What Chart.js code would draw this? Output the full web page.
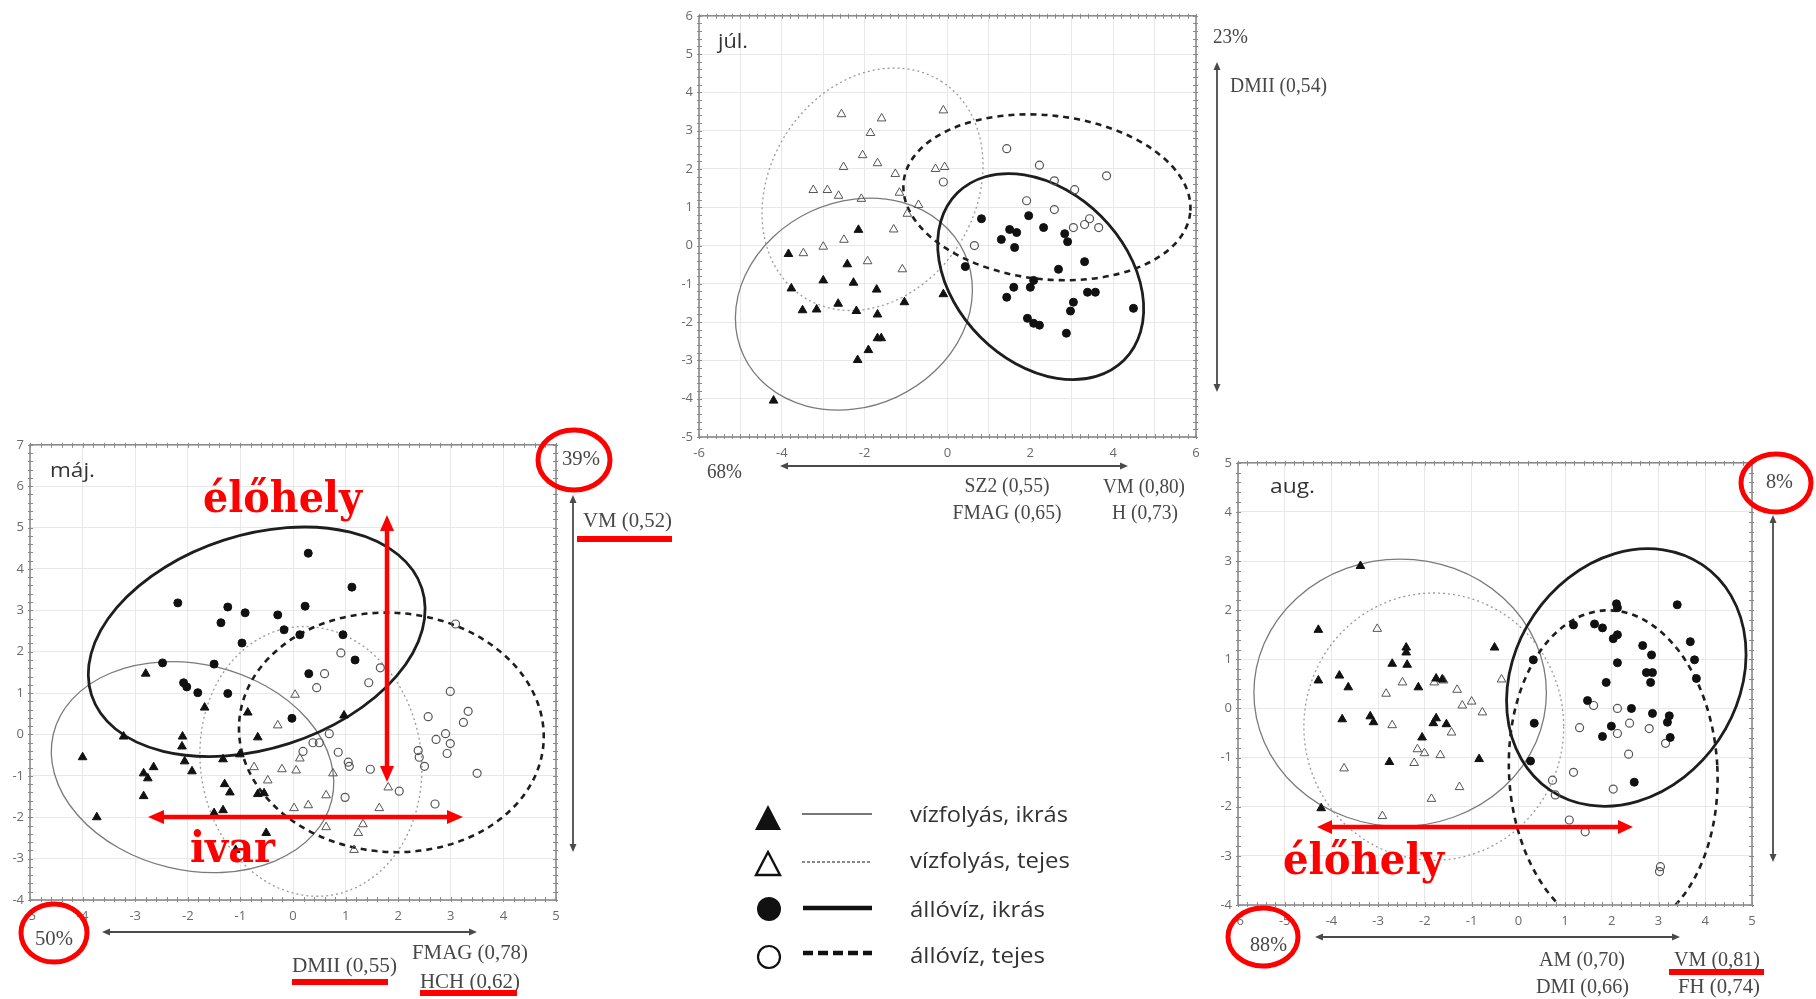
<!DOCTYPE html>
<html><head><meta charset="utf-8">
<script src="https://cdn.jsdelivr.net/npm/chart.js@4.4.1/dist/chart.umd.min.js"></script>
<style>
html,body{margin:0;padding:0;background:#fff;}
#page{position:relative;width:1816px;height:999px;overflow:hidden;background:#fff;}
canvas{position:absolute;}
#ov{position:absolute;left:0;top:0;}
.g{font-family:"Liberation Serif",serif;font-size:20px;fill:#474747;}
.t{font-family:"Open Sans",sans-serif;font-size:20px;fill:#333;}
.lg{font-family:"Open Sans",sans-serif;font-size:21px;fill:#333;}
.r{font-family:"DejaVu Serif",serif;font-weight:bold;font-size:42px;fill:#ff0000;}
</style></head><body>
<div id="page">
<canvas id="jul"></canvas>
<canvas id="maj"></canvas>
<canvas id="aug"></canvas>
<svg id="ov" width="1816" height="999" xmlns="http://www.w3.org/2000/svg"></svg>
</div>
<script>
// ---------------- DATA ----------------
const groupNames = ['vízfolyás, ikrás', 'vízfolyás, tejes', 'állóvíz, ikrás', 'állóvíz, tejes'];

// júl.
const julVizfolyasIkras = [[-2.15,0.41],[-3.84,-0.22],[-2.42,-0.49],[-3.0,-0.91],[-2.27,-0.97],[-1.71,-1.15],[-3.77,-1.12],[-3.5,-1.69],[-3.16,-1.67],[-2.64,-1.52],[-2.2,-1.71],[-1.69,-1.8],[-1.04,-1.48],[-1.69,-2.42],[-1.6,-2.42],[-1.91,-2.73],[-2.17,-2.99],[-4.2,-4.05],[-0.1,-1.27]];
const julVizfolyasTejes = [[-2.56,3.43],[-1.59,3.32],[-1.86,2.94],[-2.05,2.36],[-1.69,2.15],[-2.51,2.05],[-1.26,1.87],[-3.24,1.45],[-2.9,1.45],[-2.63,1.3],[-2.08,1.22],[-1.16,1.38],[-0.7,1.06],[-0.97,0.83],[-0.1,3.53],[-0.29,2.0],[-0.07,2.05],[-1.3,0.42],[-2.5,0.15],[-3.0,-0.03],[-3.48,-0.2],[-1.93,-0.41],[-1.09,-0.62]];
const julAlloIkras = [[0.43,-0.55],[0.82,0.7],[1.96,0.78],[2.32,0.47],[1.5,0.42],[1.67,0.34],[2.83,0.31],[1.3,0.16],[1.62,-0.05],[2.9,0.1],[3.31,-0.42],[2.68,-0.62],[2.08,-0.91],[2.0,-1.09],[1.6,-1.09],[1.43,-1.35],[3.38,-1.22],[3.57,-1.22],[3.04,-1.48],[2.97,-1.71],[4.49,-1.64],[1.93,-1.9],[2.08,-2.03],[2.22,-2.08],[2.87,-2.29]];
const julAlloTejes = [[1.43,2.53],[2.22,2.1],[3.84,1.82],[2.58,1.69],[3.07,1.46],[1.91,1.17],[2.58,0.94],[3.43,0.7],[3.31,0.55],[3.04,0.47],[3.65,0.47],[0.65,0.0],[-0.1,1.66]];
// ellipses: [centerX, centerY, radiusX (x units), radiusY (y units), rotation deg]
const julEllipses = [[-2.26,-1.53,2.94,2.67,-25],[-1.81,1.47,3.09,2.68,-57.6],[2.25,-0.81,2.85,2.23,45],[2.4,1.26,3.48,2.14,6.2]];
const julXLabels = [-6,-4,-2,0,2,4,6];
const julYLabels = [-5,-4,-3,-2,-1,0,1,2,3,4,5,6];

// máj.
const majVizfolyasIkras = [[-2.8,1.47],[-1.68,0.65],[-0.86,0.53],[-2.1,-0.05],[-2.11,-0.29],[-0.67,-0.07],[-3.22,-0.05],[-4.0,-0.55],[-2.06,-0.65],[-1.33,-0.6],[-1.01,-0.48],[-1.92,-0.89],[-2.65,-0.79],[-2.84,-0.94],[-2.76,-1.06],[-1.3,-1.2],[-1.2,-1.4],[-2.84,-1.49],[-0.67,-1.44],[-0.55,-1.42],[-3.73,-2.0],[-1.5,-1.9],[-1.33,-1.83],[-0.51,-2.38],[-1.09,-2.79],[0.97,0.46]];
const majVizfolyasTejes = [[0.04,0.96],[-0.29,0.22],[-0.74,-0.79],[-0.21,-0.84],[0.06,-0.87],[-0.48,-1.11],[0.13,-0.58],[0.02,-1.78],[0.29,-1.71],[1.81,-1.28],[0.63,-1.47],[1.64,-1.78],[0.63,-2.24],[1.33,-2.17],[1.24,-2.38],[1.16,-2.79],[0.76,-0.94]];
const majAlloIkras = [[0.29,4.38],[-2.19,3.18],[-1.24,3.08],[-0.91,2.94],[0.23,3.1],[-0.29,2.89],[-1.37,2.7],[-0.17,2.53],[0.13,2.41],[-0.97,2.21],[-2.48,1.73],[-1.5,1.7],[0.3,1.47],[1.12,3.56],[0.95,2.41],[1.18,1.8],[-0.02,0.39],[-1.24,0.99],[-1.81,1.01],[-2.08,1.25],[-2.02,1.15]];
const majAlloTejes = [[3.09,2.67],[0.91,1.97],[1.66,1.61],[0.6,1.47],[1.44,1.25],[0.45,1.13],[2.99,1.04],[3.33,0.56],[2.57,0.43],[3.24,0.29],[0.69,0.02],[2.9,0.02],[2.72,-0.12],[2.99,-0.22],[0.38,-0.2],[0.5,-0.2],[2.93,-0.46],[2.38,-0.39],[2.4,-0.55],[2.5,-0.77],[0.19,-0.41],[0.86,-0.43],[1.05,-0.67],[1.07,-0.77],[1.47,-0.84],[3.5,-0.94],[2.02,-1.37],[0.99,-1.52],[2.7,-1.68]];
const majEllipses = [[-1.91,-0.79,2.72,2.49,13.3],[0.34,-0.65,2.1,3.27,-8],[-0.69,2.24,3.3,2.58,-17.9],[1.87,0.05,2.9,2.89,4]];
const majXLabels = [-5,-4,-3,-2,-1,0,1,2,3,4,5];
const majYLabels = [-4,-3,-2,-1,0,1,2,3,4,5,6,7];

// aug.
const augVizfolyasIkras = [[-3.38,2.9],[-4.28,1.6],[-4.28,0.57],[-3.83,0.67],[-3.64,0.43],[-2.4,1.24],[-2.4,1.14],[-2.7,0.91],[-2.38,0.89],[-2.14,0.43],[-1.76,0.61],[-1.63,0.59],[-0.51,1.24],[-3.77,-0.22],[-3.17,-0.16],[-3.1,-0.28],[-1.76,-0.2],[-1.82,-0.3],[-1.54,-0.32],[-2.06,-0.59],[-2.76,-1.09],[-0.84,-1.03],[-4.22,-2.03]];
const augVizfolyasTejes = [[-3.02,1.62],[-2.48,0.53],[-2.83,0.3],[-1.8,0.53],[-1.6,0.57],[-1.31,0.38],[-1.2,0.06],[-1.0,0.14],[-0.77,-0.08],[-0.36,0.59],[-2.7,-0.34],[-1.43,-0.49],[-2.16,-0.83],[-2.01,-0.91],[-1.67,-0.95],[-3.73,-1.22],[-2.23,-1.11],[-1.26,-1.6],[-1.86,-1.84],[-2.91,-2.19]];
const augAlloIkras = [[2.1,2.13],[2.12,2.05],[3.4,2.11],[1.18,1.7],[1.63,1.72],[1.8,1.64],[2.12,1.5],[2.03,1.42],[3.68,1.36],[2.66,1.28],[2.85,1.09],[3.77,0.99],[2.12,0.93],[2.74,0.73],[2.87,0.73],[3.81,0.61],[2.83,0.53],[1.88,0.53],[0.32,0.99],[1.48,0.16],[2.42,0.0],[2.87,-0.1],[3.23,-0.15],[0.34,-0.3],[0.26,-1.07],[1.99,-0.36],[1.8,-0.57],[3.19,-0.28],[3.25,-0.59],[2.48,-1.5]];
const augAlloTejes = [[1.31,-0.39],[2.12,-0.51],[2.38,-0.3],[2.8,-0.41],[3.15,-0.71],[2.36,-0.93],[1.18,-1.3],[2.03,-1.64],[1.09,-2.27],[1.43,-2.51],[3.04,-3.22],[3.02,-3.32],[1.61,0.06],[2.12,0.0],[0.73,-1.46],[0.79,-1.76]];
const augEllipses = [[-2.53,0.32,3.13,2.72,0],[-1.81,-0.37,2.78,2.72,0],[2.31,0.63,2.91,2.27,-55.9],[2.03,-1.28,2.23,3.28,-3]];
const augXLabels = [-6,-5,-4,-3,-2,-1,0,1,2,3,4,5];
const augYLabels = [-4,-3,-2,-1,0,1,2,3,4,5];

// ---------------- STYLES ----------------
const pointStyles = [
  {pointStyle:'triangle', pointRadius:5, backgroundColor:'#111', borderColor:'#111', borderWidth:1},
  {pointStyle:'triangle', pointRadius:5, backgroundColor:'rgba(255,255,255,0)', borderColor:'#555', borderWidth:1},
  {pointStyle:'circle', pointRadius:4, backgroundColor:'#111', borderColor:'#111', borderWidth:1},
  {pointStyle:'circle', pointRadius:4, backgroundColor:'rgba(255,255,255,0)', borderColor:'#555', borderWidth:1.2}
];
const ellipseStyles = [
  {c:'#7a7a7a', w:1.3, d:[]},
  {c:'#9a9a9a', w:1.3, d:[2,3]},
  {c:'#1e1e1e', w:2.8, d:[]},
  {c:'#1e1e1e', w:2.6, d:[6,5]}
];

function ellipsePlugin(list){
  return {id:'ellipses', beforeDatasetsDraw(chart){
    const ctx = chart.ctx, a = chart.chartArea, xs = chart.scales.x, ys = chart.scales.y;
    const sx = Math.abs(xs.getPixelForValue(1) - xs.getPixelForValue(0));
    const sy = Math.abs(ys.getPixelForValue(1) - ys.getPixelForValue(0));
    ctx.save();
    ctx.beginPath(); ctx.rect(a.left, a.top, a.right - a.left, a.bottom - a.top); ctx.clip();
    list.forEach((e, i) => {
      const st = ellipseStyles[i];
      ctx.beginPath();
      ctx.ellipse(xs.getPixelForValue(e[0]), ys.getPixelForValue(e[1]), e[2]*sx, e[3]*sy, e[4]*Math.PI/180, 0, Math.PI*2);
      ctx.setLineDash(st.d); ctx.lineWidth = st.w; ctx.strokeStyle = st.c; ctx.stroke();
    });
    ctx.restore();
  }};
}
const framePlugin = {id:'frame', afterDatasetsDraw(chart){
  const ctx = chart.ctx, a = chart.chartArea, xs = chart.scales.x, ys = chart.scales.y;
  ctx.save();
  ctx.strokeStyle = '#8c8c8c'; ctx.lineWidth = 1;
  ctx.beginPath();
  for (let v = xs.min; v <= xs.max + 1e-9; v += 0.2) {
    const p = Math.round(xs.getPixelForValue(v)) + 0.5;
    ctx.moveTo(p, a.top - 2); ctx.lineTo(p, a.top + 3);
    ctx.moveTo(p, a.bottom - 3); ctx.lineTo(p, a.bottom + 2);
  }
  for (let v = ys.min; v <= ys.max + 1e-9; v += 0.2) {
    const p = Math.round(ys.getPixelForValue(v)) + 0.5;
    ctx.moveTo(a.left - 2, p); ctx.lineTo(a.left + 3, p);
    ctx.moveTo(a.right - 3, p); ctx.lineTo(a.right + 2, p);
  }
  ctx.stroke();
  ctx.strokeStyle = '#8a8a8a'; ctx.lineWidth = 1.6;
  ctx.strokeRect(a.left, a.top, a.right - a.left, a.bottom - a.top);
  ctx.restore();
}};

function buildChart(id, area, xr, yr, groups, ellipses, xLabels, yLabels){
  const PL = 34, PT = 12, PR = 14, PB = 30;
  const cv = document.getElementById(id);
  const w = area.r - area.l, h = area.b - area.t;
  cv.width = w + PL + PR; cv.height = h + PT + PB;
  cv.style.left = (area.l - PL) + 'px'; cv.style.top = (area.t - PT) + 'px';
  cv.style.width = cv.width + 'px'; cv.style.height = cv.height + 'px';
  const tickFont = {family:'"Open Sans", sans-serif', size:13};
  new Chart(cv, {
    type:'scatter',
    data:{datasets: groups.map((g, i) => Object.assign({label: groupNames[i], data: g.map(p => ({x:p[0], y:p[1]}))}, pointStyles[i]))},
    options:{
      responsive:false, animation:false, devicePixelRatio:1,
      layout:{padding:{top:PT, right:PR, left:0, bottom:0}},
      plugins:{legend:{display:false}, tooltip:{enabled:false}},
      scales:{
        x:{type:'linear', min:xr[0], max:xr[1],
           afterFit(s){ s.height = PB; },
           ticks:{stepSize:1, padding:8, autoSkip:false, maxRotation:0, font:tickFont, color:'#6a6a6a',
                  callback:v => xLabels.includes(v) ? String(v) : ''},
           grid:{color:'#e8e8e8', drawTicks:false, lineWidth:1}, border:{display:false}},
        y:{type:'linear', min:yr[0], max:yr[1],
           afterFit(s){ s.width = PL; },
           ticks:{stepSize:1, padding:6, autoSkip:false, font:tickFont, color:'#6a6a6a',
                  callback:v => yLabels.includes(v) ? String(v) : ''},
           grid:{color:'#e8e8e8', drawTicks:false, lineWidth:1}, border:{display:false}}
      }
    },
    plugins:[ellipsePlugin(ellipses), framePlugin]
  });
}

buildChart('jul', {l:699, t:14, r:1196, b:437}, [-6,6], [-5,6],
  [julVizfolyasIkras, julVizfolyasTejes, julAlloIkras, julAlloTejes], julEllipses, julXLabels, julYLabels);
buildChart('maj', {l:30, t:443, r:556, b:900}, [-5,5], [-4,7],
  [majVizfolyasIkras, majVizfolyasTejes, majAlloIkras, majAlloTejes], majEllipses, majXLabels, majYLabels);
buildChart('aug', {l:1238, t:461, r:1752, b:905}, [-6,5], [-4,5],
  [augVizfolyasIkras, augVizfolyasTejes, augAlloIkras, augAlloTejes], augEllipses, augXLabels, augYLabels);

// ---------------- OVERLAY (annotations) ----------------
const svg = document.getElementById('ov');
let out = '';
function txt(cls, x, y, s, len, anchor){
  out += `<text class="${cls}" x="${x}" y="${y}"${len ? ` textLength="${len}" lengthAdjust="spacingAndGlyphs"` : ''}${anchor ? ` text-anchor="${anchor}"` : ''}>${s}</text>`;
}
function arrow(x1, y1, x2, y2, color, w, hl, hw){
  const L = Math.hypot(x2 - x1, y2 - y1), dx = (x2 - x1)/L, dy = (y2 - y1)/L, nx = -dy, ny = dx;
  out += `<line x1="${x1 + dx*hl*0.8}" y1="${y1 + dy*hl*0.8}" x2="${x2 - dx*hl*0.8}" y2="${y2 - dy*hl*0.8}" stroke="${color}" stroke-width="${w}"/>`;
  const head = (tx, ty, sx, sy) => {
    const bx = tx - sx*hl, by = ty - sy*hl;
    out += `<polygon points="${tx},${ty} ${bx + (-sy)*hw/2},${by + sx*hw/2} ${bx - (-sy)*hw/2},${by - sx*hw/2}" fill="${color}"/>`;
  };
  head(x2, y2, dx, dy); head(x1, y1, -dx, -dy);
}
// titles
txt('t', 718, 48, 'júl.', 30);
txt('t', 50, 477, 'máj.', 45);
txt('t', 1270, 493, 'aug.', 45);
// júl labels
txt('g', 1213, 43, '23%', 35);
txt('g', 1230, 92, 'DMII (0,54)', 97);
txt('g', 707, 478, '68%', 35);
txt('g', 1007, 492, 'SZ2 (0,55)', 85, 'middle');
txt('g', 1007, 519, 'FMAG (0,65)', 109, 'middle');
txt('g', 1144, 493, 'VM (0,80)', 82, 'middle');
txt('g', 1145, 519, 'H (0,73)', 66, 'middle');
// máj labels
txt('g', 562, 465, '39%', 38);
txt('g', 583, 527, 'VM (0,52)', 89);
txt('g', 35, 945, '50%', 38);
txt('g', 292, 972, 'DMII (0,55)', 105);
txt('g', 412, 959, 'FMAG (0,78)', 116);
txt('g', 420, 988, 'HCH (0,62)', 100);
// aug labels
txt('g', 1766, 488, '8%', 27);
txt('g', 1250, 951, '88%', 37);
txt('g', 1539, 966, 'AM (0,70)', 86);
txt('g', 1536, 993, 'DMI (0,66)', 93);
txt('g', 1674, 966, 'VM (0,81)', 86);
txt('g', 1678, 993, 'FH (0,74)', 82);
// black axis arrows
arrow(1217, 62, 1217, 392, '#4a4a4a', 1.8, 8, 7);
arrow(780, 466, 1128, 466, '#4a4a4a', 1.8, 8, 7);
arrow(573, 495, 573, 852, '#4a4a4a', 1.8, 8, 7);
arrow(102, 932, 477, 932, '#4a4a4a', 1.8, 8, 7);
arrow(1773, 515, 1773, 862, '#4a4a4a', 1.8, 8, 7);
arrow(1315, 937, 1680, 937, '#4a4a4a', 1.8, 8, 7);
// red annotations
arrow(387, 515, 387, 782, '#ff0000', 4.5, 16, 14);
arrow(148, 817, 463, 817, '#ff0000', 4.5, 16, 14);
arrow(1317, 827, 1633, 827, '#ff0000', 4.5, 15, 14);
txt('r', 203, 512, 'élőhely', 159);
txt('r', 190, 862, 'ivar', 85);
txt('r', 1283, 874, 'élőhely', 161);
[[574,460,36,30],[54,933,33,29],[1776,483,35,29],[1263,937,35,29]].forEach(c => {
  out += `<ellipse cx="${c[0]}" cy="${c[1]}" rx="${c[2]}" ry="${c[3]}" fill="none" stroke="#ff0000" stroke-width="5"/>`;
});
[[577,536,95,6],[292,979,96,6],[420,990,97,6],[1669,969,95,6]].forEach(r => {
  out += `<rect x="${r[0]}" y="${r[1]}" width="${r[2]}" height="${r[3]}" fill="#ff0000"/>`;
});
// legend
out += `<polygon points="768,805 781,830 755,830" fill="#111"/>`;
out += `<polygon points="768,852 780,875 756,875" fill="none" stroke="#111" stroke-width="2.4"/>`;
out += `<circle cx="769" cy="909" r="12" fill="#111"/>`;
out += `<circle cx="769" cy="957" r="11" fill="none" stroke="#111" stroke-width="2.2"/>`;
out += `<line x1="802" y1="814" x2="872" y2="814" stroke="#777" stroke-width="2"/>`;
out += `<line x1="802" y1="862" x2="872" y2="862" stroke="#888" stroke-width="2" stroke-dasharray="3 2"/>`;
out += `<line x1="803" y1="908" x2="872" y2="908" stroke="#111" stroke-width="4.5"/>`;
out += `<line x1="803" y1="953" x2="872" y2="953" stroke="#111" stroke-width="4.5" stroke-dasharray="10 5"/>`;
txt('lg', 910, 822, groupNames[0], 158);
txt('lg', 910, 868, groupNames[1], 160);
txt('lg', 910, 917, groupNames[2], 135);
txt('lg', 910, 963, groupNames[3], 135);
svg.innerHTML = out;
</script>
</body></html>
